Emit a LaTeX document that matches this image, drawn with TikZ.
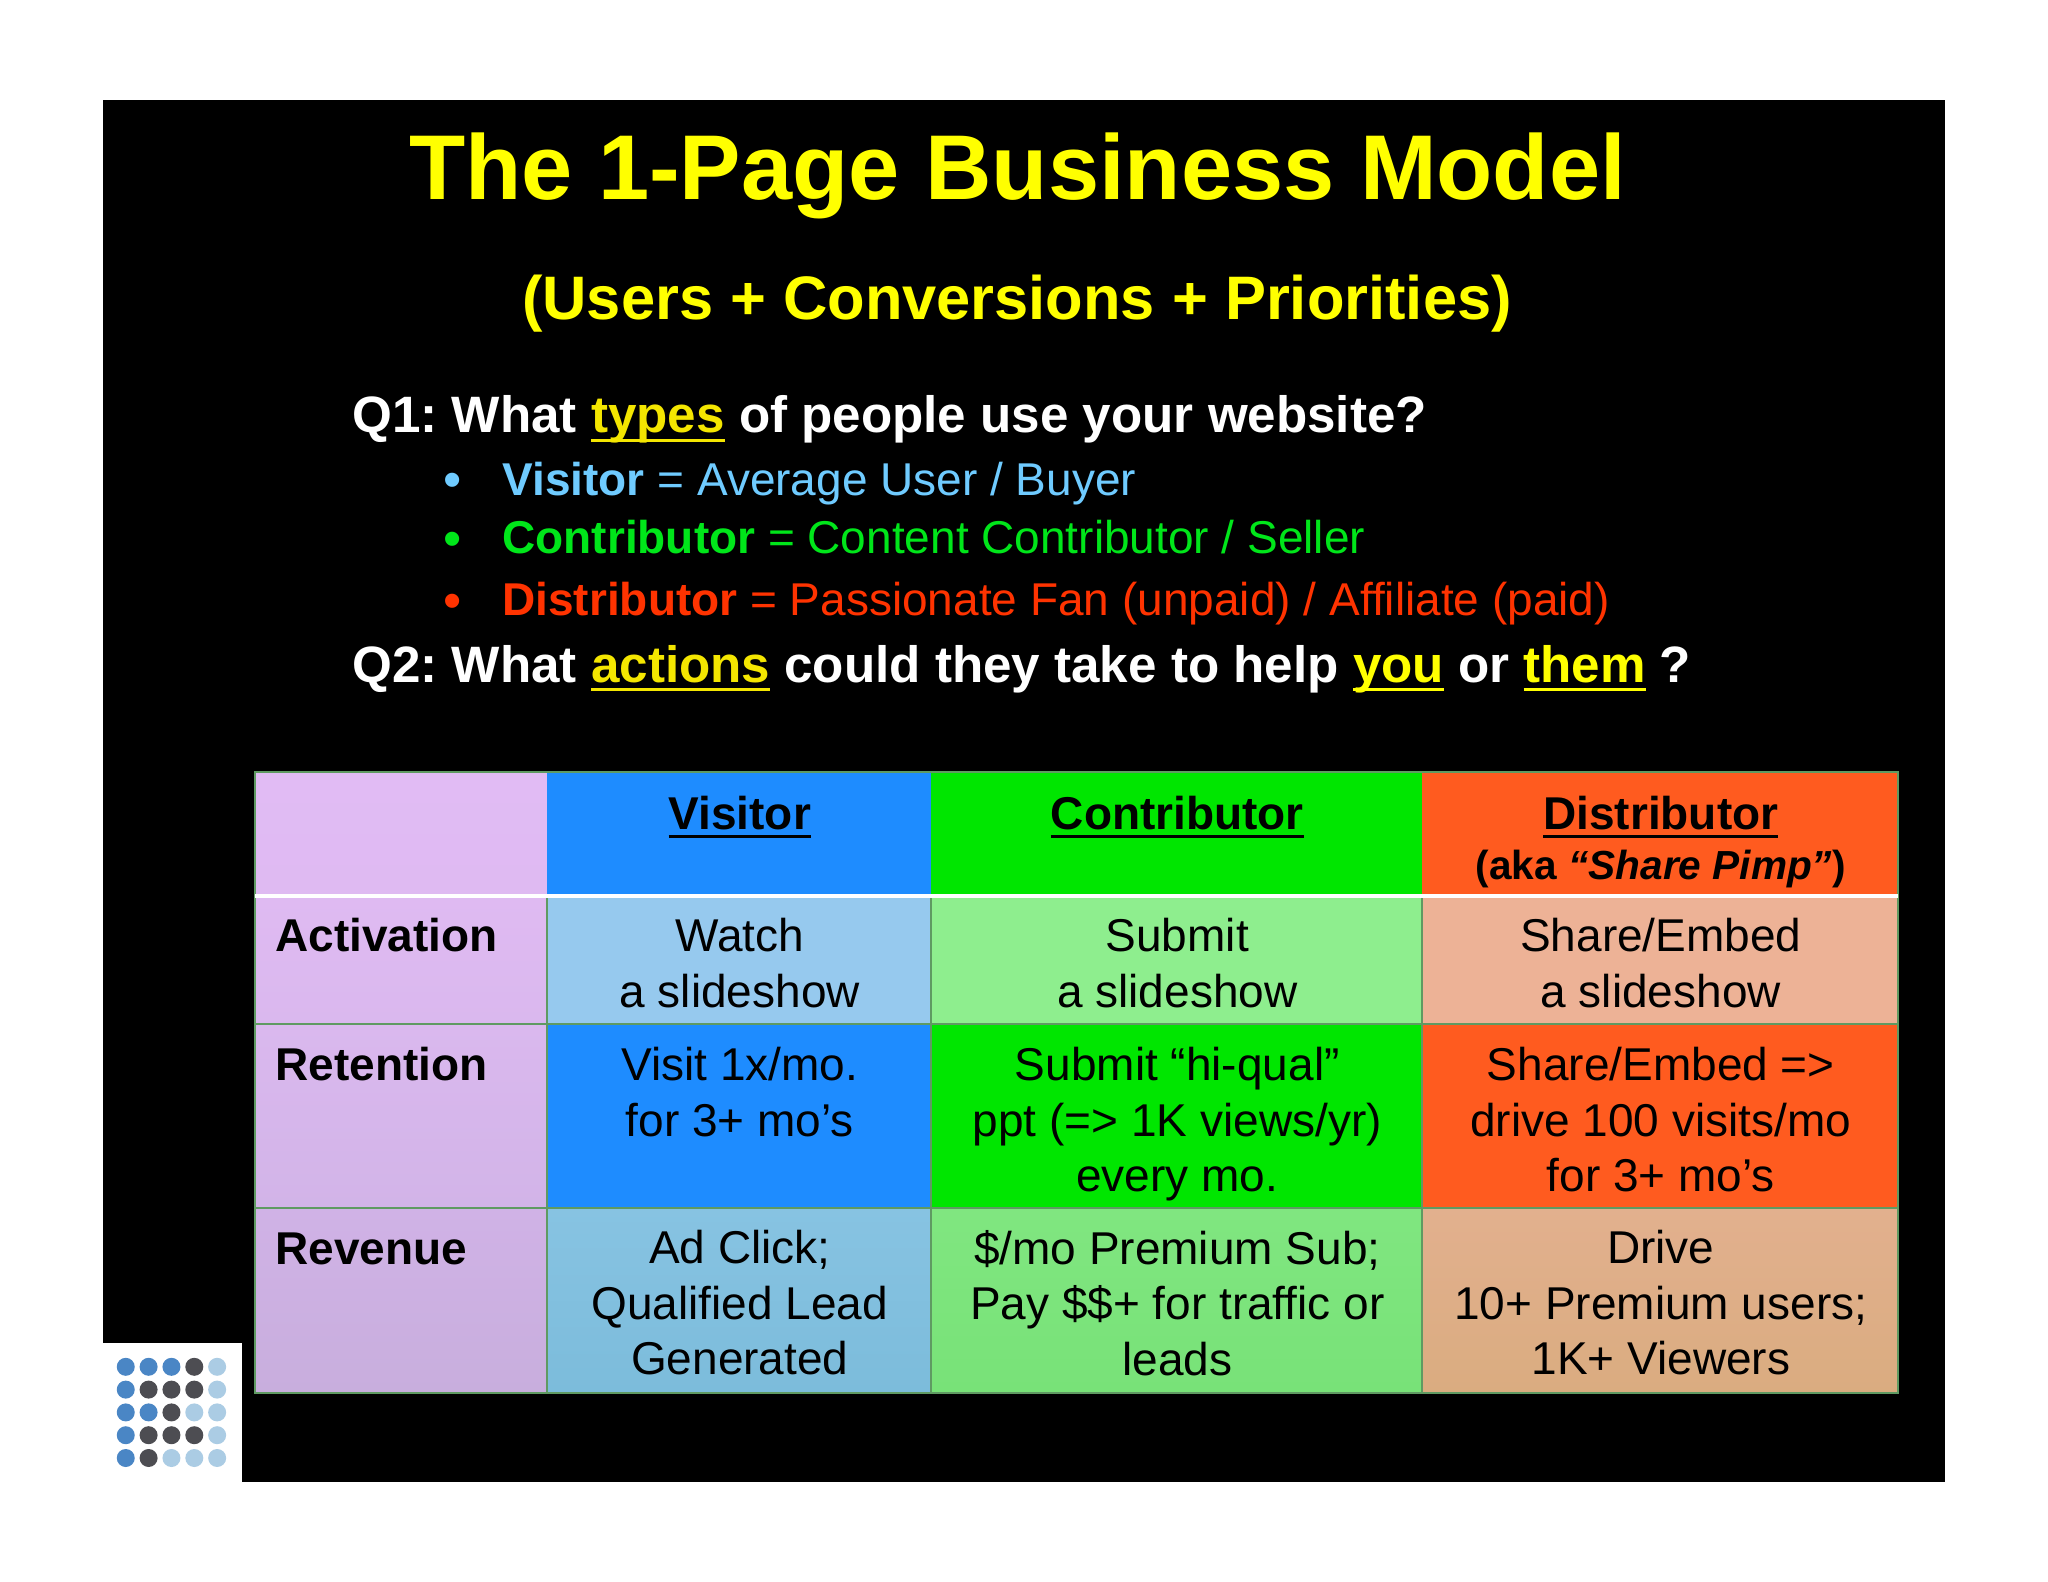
\documentclass[tikz,border=0pt]{standalone}
\usepackage{fontspec}
\setmainfont{Liberation Sans}
\usetikzlibrary{positioning}
\frenchspacing
\definecolor{titleyellow}{HTML}{FFFF00}
\definecolor{wordyellow}{HTML}{F4E600}
\definecolor{visitorblue}{HTML}{6FCBFF}
\definecolor{contribgreen}{HTML}{00E61A}
\definecolor{distribred}{HTML}{FF3300}
\definecolor{tableline}{HTML}{5F9A62}
\definecolor{dotblue}{HTML}{4A86C5}
\definecolor{dotdark}{HTML}{4D4D52}
\definecolor{dotlight}{HTML}{ABCCE4}
\newsavebox{\subrbox}
\newcommand{\subr}[1]{\sbox{\subrbox}{#1}\usebox{\subrbox}\hspace{-\wd\subrbox}\rule[-0.18em]{\wd\subrbox}{0.065em}}
\tikzset{
    title/.style={anchor=base,text=titleyellow,inner sep=0pt,font=\bfseries\fontsize{46}{50}\selectfont},
    subtitle/.style={anchor=base,text=titleyellow,inner sep=0pt,font=\bfseries\fontsize{30.7}{34}\selectfont},
    question/.style={anchor=base west,text=white,inner sep=0pt,font=\bfseries\fontsize{25.58}{30}\selectfont},
    answer/.style={anchor=base west,inner sep=0pt,font=\fontsize{23}{28}\selectfont},
    bullet/.style={anchor=base,inner sep=0pt,font=\fontsize{26}{28}\selectfont},
    cell/.style={rectangle,draw=tableline,line width=1pt,inner sep=0pt,outer sep=0pt},
    headcell/.style={rectangle,draw=none,inner sep=0pt,outer sep=0pt},
    colone/.style={minimum width=146pt},
    coltwo/.style={minimum width=192pt},
    colthree/.style={minimum width=245.5pt},
    colfour/.style={minimum width=238pt},
    celltext/.style={align=center,inner sep=0pt,xshift=0.4pt,text=black,font=\fontsize{23}{27.7}\selectfont,execute at begin node={\rule{0pt}{20pt}}},
    rowtext/.style={align=left,inner sep=0pt,text=black,font=\bfseries\fontsize{23}{28}\selectfont,execute at begin node={\rule{0pt}{20pt}}},
    headtext/.style={celltext,font=\bfseries\fontsize{23}{28}\selectfont},
    whiteline/.style={draw=white,line width=2.4pt},
    border/.style={draw=tableline,line width=1pt},
}
\begin{document}
\begin{tikzpicture}[x=0.5pt,y=-0.5pt]
    \useasboundingbox (0,0) rectangle (2048,1582);
    \fill [black] (103,100) rectangle (1945,1482);
    \fill [white] (103,1343) rectangle (242,1482);
    % logo
    \foreach \dotcol [count=\r] in {
        {dotblue,dotblue,dotblue,dotdark,dotlight},
        {dotblue,dotdark,dotdark,dotdark,dotlight},
        {dotblue,dotblue,dotdark,dotlight,dotlight},
        {dotblue,dotdark,dotdark,dotdark,dotlight},
        {dotblue,dotdark,dotlight,dotlight,dotlight}} {
        \foreach \c [count=\s] in \dotcol {
            \fill [\c] ({102.9+22.85*\s},{1344+22.8*\r}) circle (9);
        }
    }
    % heading
    \node [title] (head) at (1017.5,200) {The 1-Page Business Model};
    \node [subtitle] (subhead) at (1017,320) {(Users + Conversions + Priorities)};
    \node [question] (qone) at (352,433) {Q1: What \textcolor{wordyellow}{\subr{types}} of people use your website?};
    \node [bullet,text=visitorblue] (bulvis) at (453,498) {•};
    \node [answer,text=visitorblue] (ansvis) at (502,495.5) {\textbf{Visitor} = Average User / Buyer};
    \node [bullet,text=contribgreen] (bulcon) at (453,556.5) {•};
    \node [answer,text=contribgreen] (anscon) at (502,553) {\textbf{Contributor} = Content Contributor / Seller};
    \node [bullet,text=distribred] (buldis) at (453,618.5) {•};
    \node [answer,text=distribred] (ansdis) at (502,615) {\textbf{Distributor} = Passionate Fan (unpaid) / Affiliate (paid)};
    \node [question] (qtwo) at (352,682) {Q2: What \textcolor{wordyellow}{\subr{actions}} could they take to help \textcolor{titleyellow}{\subr{you}} or \textcolor{titleyellow}{\subr{them}} ?};
    % header row
    \node [headcell,colone,minimum height=62pt,anchor=north west,top color={rgb,255:red,225;green,187;blue,244},bottom color={rgb,255:red,223;green,186;blue,242}] (corner) at (255,772) {};
    \node [headcell,coltwo,minimum height=62pt,right=0pt of corner,fill={rgb,255:red,30;green,140;blue,255}] (headvis) {};
    \node [headcell,colthree,minimum height=62pt,right=0pt of headvis,fill={rgb,255:red,0;green,230;blue,0}] (headcon) {};
    \node [headcell,colfour,minimum height=62pt,right=0pt of headcon,fill={rgb,255:red,255;green,91;blue,31}] (headdis) {};
    % activation row
    \node [cell,colone,minimum height=64pt,below=0pt of corner,top color={rgb,255:red,223;green,186;blue,242},bottom color={rgb,255:red,218;green,184;blue,238}] (actrow) {};
    \node [cell,coltwo,minimum height=64pt,right=0pt of actrow,fill={rgb,255:red,150;green,201;blue,238}] (actvis) {};
    \node [cell,colthree,minimum height=64pt,right=0pt of actvis,fill={rgb,255:red,142;green,238;blue,142}] (actcon) {};
    \node [cell,colfour,minimum height=64pt,right=0pt of actcon,fill={rgb,255:red,237;green,178;blue,150}] (actdis) {};
    % retention row
    \node [cell,colone,minimum height=92pt,below=0pt of actrow,top color={rgb,255:red,218;green,184;blue,238},bottom color={rgb,255:red,210;green,180;blue,232}] (retrow) {};
    \node [cell,coltwo,minimum height=92pt,right=0pt of retrow,fill={rgb,255:red,30;green,140;blue,255}] (retvis) {};
    \node [cell,colthree,minimum height=92pt,right=0pt of retvis,fill={rgb,255:red,0;green,230;blue,0}] (retcon) {};
    \node [cell,colfour,minimum height=92pt,right=0pt of retcon,fill={rgb,255:red,255;green,91;blue,31}] (retdis) {};
    % revenue row
    \node [cell,colone,minimum height=92.5pt,below=0pt of retrow,top color={rgb,255:red,208;green,178;blue,230},bottom color={rgb,255:red,200;green,174;blue,221}] (revrow) {};
    \node [cell,coltwo,minimum height=92.5pt,right=0pt of revrow,top color={rgb,255:red,135;green,195;blue,226},bottom color={rgb,255:red,124;green,188;blue,219}] (revvis) {};
    \node [cell,colthree,minimum height=92.5pt,right=0pt of revvis,top color={rgb,255:red,128;green,230;blue,128},bottom color={rgb,255:red,120;green,226;blue,120}] (revcon) {};
    \node [cell,colfour,minimum height=92.5pt,right=0pt of revcon,top color={rgb,255:red,226;green,176;blue,142},bottom color={rgb,255:red,218;green,172;blue,128}] (revdis) {};
    \path [border] (corner.north west) rectangle (revdis.south east);
    \path [whiteline] (corner.south west) -- (headdis.south east);
    % table text
    \node [headtext,below=8.5pt of headvis.north] (txtheadvis) {\subr{Visitor}};
    \node [headtext,below=8.5pt of headcon.north] (txtheadcon) {\subr{Contributor}};
    \node [headtext,below=12pt of headdis.north] (txtheaddis) {\subr{Distributor}\\[-3pt]{\fontsize{20.3}{25}\selectfont (aka \textit{“Share Pimp”})}};
    \node [rowtext,below right=7.5pt and 10pt of actrow.north west] (txtactrow) {Activation};
    \node [celltext,below=11pt of actvis.north] (txtactvis) {Watch\\a slideshow};
    \node [celltext,below=11pt of actcon.north] (txtactcon) {Submit\\a slideshow};
    \node [celltext,below=11pt of actdis.north] (txtactdis) {Share/Embed\\a slideshow};
    \node [rowtext,below right=8pt and 10pt of retrow.north west] (txtretrow) {Retention};
    \node [celltext,below=11.5pt of retvis.north] (txtretvis) {Visit 1x/mo.\\for 3+ mo’s};
    \node [celltext,below=11.5pt of retcon.north] (txtretcon) {Submit “hi-qual”\\ppt (=> 1K views/yr)\\every mo.};
    \node [celltext,below=11.5pt of retdis.north] (txtretdis) {Share/Embed =>\\drive 100 visits/mo\\for 3+ mo’s};
    \node [rowtext,below right=8pt and 10pt of revrow.north west] (txtrevrow) {Revenue};
    \node [celltext,below=11pt of revvis.north] (txtrevvis) {Ad Click;\\Qualified Lead\\Generated};
    \node [celltext,below=11pt of revcon.north] (txtrevcon) {\$/mo Premium Sub;\\Pay \$\$+ for traffic or\\leads};
    \node [celltext,below=11pt of revdis.north] (txtrevdis) {Drive\\10+ Premium users;\\1K+ Viewers};
\end{tikzpicture}
\end{document}
